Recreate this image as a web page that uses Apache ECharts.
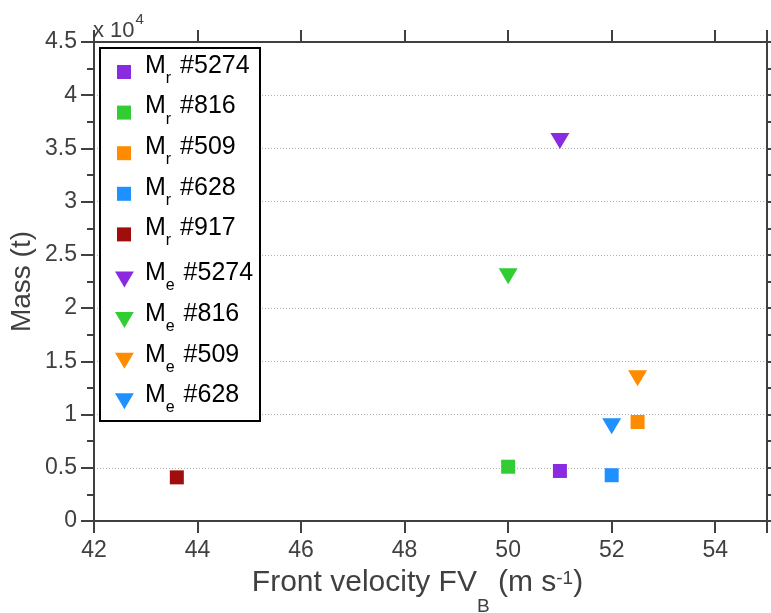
<!DOCTYPE html>
<html><head><meta charset="utf-8">
<script src="https://cdn.jsdelivr.net/npm/echarts@6/dist/echarts.min.js"></script>
<style>html,body{margin:0;padding:0;background:#fff}#c{width:771px;height:613px}</style>
</head><body><div id="c"></div>
<script>
// ---- data ----
const xTickValues = [42, 44, 46, 48, 50, 52, 54];
const yTickValues = [0, 0.5, 1, 1.5, 2, 2.5, 3, 3.5, 4, 4.5];
const mrLabels = ['#5274', '#816', '#509', '#628', '#917'];
const mrColors = ['#8A2BE2', '#32CD32', '#FF8C00', '#1E90FF', '#A00D0D'];
const mrX = [51, 50, 52.5, 52, 43.6];
const mrY = [0.47, 0.51, 0.93, 0.43, 0.41];
const meLabels = ['#5274', '#816', '#509', '#628'];
const meColors = ['#8A2BE2', '#32CD32', '#FF8C00', '#1E90FF'];
const meX = [51, 50, 52.5, 52];
const meY = [3.57, 2.30, 1.34, 0.89];

const FONT = 'Liberation Sans, Arial, Helvetica, sans-serif';
const AX = '#404040';
const TRI = 'path://M0,0L20,0L10,17Z';

const series = [];
mrLabels.forEach((l, i) => series.push({
  name: 'Mr ' + l, type: 'scatter', symbol: 'rect', symbolSize: 14,
  itemStyle: {color: mrColors[i], opacity: 1}, data: [[mrX[i], mrY[i]]], z: 3
}));
meLabels.forEach((l, i) => series.push({
  name: 'Me ' + l, type: 'scatter', symbol: TRI, symbolSize: [19, 16],
  itemStyle: {color: meColors[i], opacity: 1}, data: [[meX[i], meY[i]]], z: 3
}));

function legendRich(pl) {
  return {
    m: {fontSize: 25, lineHeight: 25, fontFamily: FONT, color: '#000', verticalAlign: 'bottom', padding: [0, 0, 12, pl]},
    s: {fontSize: 16, lineHeight: 16, fontFamily: FONT, color: '#000', verticalAlign: 'bottom', padding: [0, 2, 4, 0]},
    t: {fontSize: 25, lineHeight: 25, fontFamily: FONT, color: '#000', verticalAlign: 'bottom', padding: [0, 0, 12, 0]}
  };
}
function legendFmt(name) {
  const p = name.split(' ');
  return '{m|M}{s|' + p[0].charAt(1) + '}{t| ' + p[1] + '}';
}

const axisCommon = {
  axisLine: {show: true, onZero: false, lineStyle: {color: AX, width: 2}},
  axisTick: {show: true, inside: false, length: 12, lineStyle: {color: AX, width: 2}},
};

const option = {
  animation: false,
  backgroundColor: '#fff',
  title: {
    text: '{a|x 10}{b|4}', left: 93, top: 19.5, padding: 0,
    textStyle: {fontWeight: 'normal', rich: {
      a: {fontSize: 22, lineHeight: 22, fontWeight: 'normal', fontFamily: FONT, color: AX, verticalAlign: 'bottom'},
      b: {fontSize: 15, lineHeight: 15, fontWeight: 'normal', fontFamily: FONT, color: AX, verticalAlign: 'bottom', padding: [0, 0, 14, 1]}
    }}
  },
  grid: {left: 94, right: 4, top: 42, bottom: 92, containLabel: false, outerBoundsMode: 'none'},
  graphic: [{
    type: 'rect', z: 5, shape: {x: 100, y: 48, width: 160, height: 373},
    style: {fill: '#fff', stroke: '#000', lineWidth: 2}
  }],
  legend: [{
    data: mrLabels.map(l => 'Mr ' + l), orient: 'vertical', left: 117, top: 53.5, padding: 0,
    itemWidth: 14, itemHeight: 14, itemGap: 3.6, selectedMode: false, z: 10,
    formatter: legendFmt, textStyle: {padding: [12, 0, 0, 0], rich: legendRich(9)}
  }, {
    data: meLabels.map(l => 'Me ' + l), orient: 'vertical', left: 115, top: 261, padding: 0,
    itemWidth: 19, itemHeight: 16, itemGap: 3.6, selectedMode: false, z: 10,
    formatter: legendFmt, textStyle: {padding: [12, 0, 0, 0], rich: legendRich(6)}
  }],
  xAxis: [{
    type: 'value', position: 'bottom', min: 42, max: 55, interval: 2,
    ...axisCommon,
    axisLabel: {margin: 18, fontSize: 23, color: AX, fontFamily: FONT,
      formatter: v => (xTickValues.indexOf(v) >= 0 ? String(v) : '')},
    splitLine: {show: false},
    name: '{a|Front velocity FV}{b|B}{a| (m s}{c|-1}{d|)}',
    nameLocation: 'middle', nameGap: 65, nameMoveOverlap: false,
    nameTextStyle: {rich: {
      a: {fontSize: 30, lineHeight: 30, fontFamily: FONT, color: AX, verticalAlign: 'bottom', padding: [0, 0, 18, 0]},
      b: {fontSize: 19, lineHeight: 19, fontFamily: FONT, color: AX, verticalAlign: 'bottom'},
      c: {fontSize: 19, lineHeight: 19, fontFamily: FONT, color: AX, verticalAlign: 'bottom', padding: [0, 0, 27.5, 0]},
      d: {fontSize: 30, lineHeight: 30, fontFamily: FONT, color: AX, verticalAlign: 'bottom', padding: [0, 26, 18, 0]}
    }}
  }, {
    type: 'value', position: 'top', min: 42, max: 55, interval: 2,
    ...axisCommon,
    axisLabel: {show: false}, splitLine: {show: false}
  }],
  yAxis: [{
    type: 'value', position: 'left', min: 0, max: 4.5, interval: 0.5,
    ...axisCommon,
    axisTick: {show: true, inside: false, length: 13, lineStyle: {color: AX, width: 2}},
    minorTick: {show: true, splitNumber: 2, length: 7, lineStyle: {color: AX, width: 2}},
    axisLabel: {margin: 17, fontSize: 23, color: AX, fontFamily: FONT},
    splitLine: {show: true, lineStyle: {color: '#b4b4b4', width: 1, type: [1, 2]}},
    name: 'Mass (t)', nameLocation: 'middle', nameGap: 58, nameRotate: 90, nameMoveOverlap: false,
    nameTextStyle: {fontSize: 28, lineHeight: 28, fontFamily: FONT, color: AX}
  }, {
    type: 'value', position: 'right', min: 0, max: 4.5, interval: 0.5,
    ...axisCommon,
    axisTick: {show: true, inside: false, length: 13, lineStyle: {color: AX, width: 2}},
    minorTick: {show: true, splitNumber: 2, length: 7, lineStyle: {color: AX, width: 2}},
    axisLabel: {show: false}, splitLine: {show: false}
  }],
  series: series
};
const chart = echarts.init(document.getElementById('c'), null, {renderer: 'canvas'});
chart.setOption(option);
</script></body></html>
